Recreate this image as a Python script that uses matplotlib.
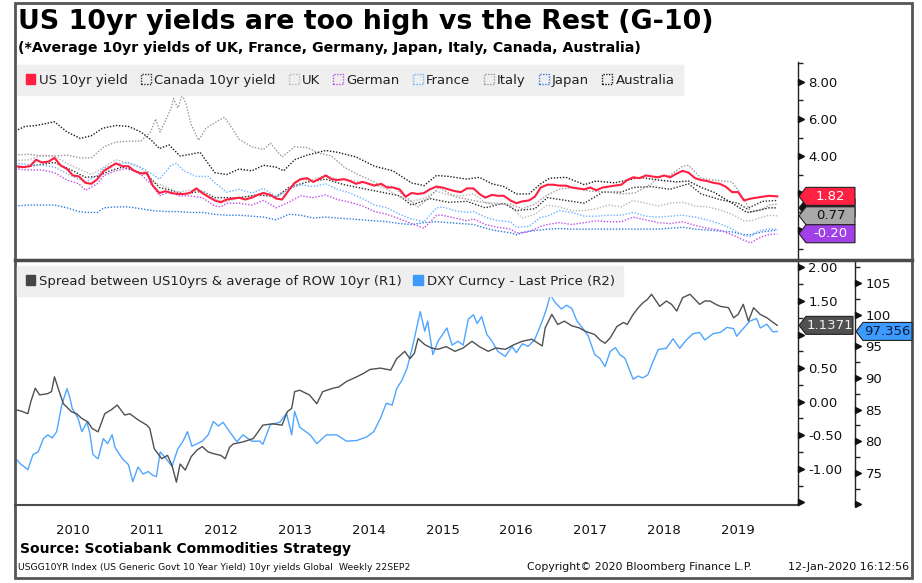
import matplotlib
matplotlib.use('Agg')
import matplotlib.pyplot as plt
from matplotlib.patches import Polygon, Patch, Rectangle
from matplotlib.lines import Line2D
import matplotlib.transforms as mtrans
from matplotlib.ticker import FixedLocator, FuncFormatter, NullFormatter

# ---------------- data (decimal years, values) ----------------
us_t = [2009.72, 2009.83, 2009.92, 2010.0, 2010.08, 2010.17, 2010.25, 2010.33, 2010.42, 2010.5, 2010.58, 2010.67,
        2010.75, 2010.83, 2010.92, 2011.0, 2011.08, 2011.17, 2011.25, 2011.33, 2011.42, 2011.5, 2011.58, 2011.67,
        2011.75, 2011.83, 2011.92, 2012.0, 2012.08, 2012.17, 2012.25, 2012.33, 2012.42, 2012.5, 2012.58, 2012.67,
        2012.75, 2012.83, 2012.92, 2013.0, 2013.08, 2013.17, 2013.25, 2013.33, 2013.42, 2013.5, 2013.58, 2013.67,
        2013.75, 2013.83, 2013.92, 2014.0, 2014.08, 2014.17, 2014.25, 2014.33, 2014.42, 2014.5, 2014.58, 2014.67,
        2014.75, 2014.83, 2014.92, 2015.0, 2015.08, 2015.17, 2015.25, 2015.33, 2015.42, 2015.5, 2015.58, 2015.67,
        2015.75, 2015.83, 2015.92, 2016.0, 2016.08, 2016.17, 2016.25, 2016.33, 2016.42, 2016.5, 2016.58, 2016.67,
        2016.75, 2016.83, 2016.92, 2017.0, 2017.08, 2017.17, 2017.25, 2017.33, 2017.42, 2017.5, 2017.58, 2017.67,
        2017.75, 2017.83, 2017.92, 2018.0, 2018.08, 2018.17, 2018.25, 2018.33, 2018.42, 2018.5, 2018.58, 2018.67,
        2018.75, 2018.83, 2018.92, 2019.0, 2019.08, 2019.17, 2019.25, 2019.33, 2019.42, 2019.5, 2019.58, 2019.67,
        2019.75, 2019.83, 2019.92, 2020.03]
us_v = [3.45, 3.4, 3.45, 3.8, 3.65, 3.7, 3.9, 3.5, 3.3, 2.95, 2.9, 2.55,
        2.5, 2.75, 3.2, 3.4, 3.6, 3.45, 3.45, 3.2, 3.05, 3.1, 2.4, 2.0,
        2.1, 2.0, 1.95, 1.95, 2.0, 2.25, 2.0, 1.8, 1.6, 1.5, 1.65, 1.7,
        1.75, 1.65, 1.75, 1.9, 2.0, 1.9, 1.7, 1.65, 2.15, 2.55, 2.75, 2.8,
        2.6, 2.75, 2.95, 2.75, 2.7, 2.75, 2.65, 2.5, 2.6, 2.5, 2.4, 2.5,
        2.3, 2.3, 2.2, 1.8, 2.0, 1.95, 2.0, 2.2, 2.35, 2.3, 2.2, 2.1,
        2.05, 2.25, 2.25, 1.95, 1.75, 1.9, 1.85, 1.85, 1.6, 1.45, 1.55, 1.6,
        1.8, 2.3, 2.45, 2.45, 2.4, 2.4, 2.3, 2.25, 2.2, 2.3, 2.15, 2.3,
        2.35, 2.4, 2.45, 2.7, 2.85, 2.8, 2.95, 2.9, 2.85, 2.95, 2.85, 3.05,
        3.2, 3.1, 2.8, 2.7, 2.65, 2.55, 2.5, 2.35, 2.05, 2.05, 1.6, 1.7,
        1.75, 1.8, 1.85, 1.82]

canada_t = [2009.72, 2010.0, 2010.25, 2010.5, 2010.67, 2010.83, 2011.0, 2011.17, 2011.33, 2011.5, 2011.67, 2011.83,
            2012.0, 2012.25, 2012.42, 2012.58, 2012.75, 2013.0, 2013.25, 2013.42, 2013.67, 2013.92, 2014.17, 2014.42,
            2014.67, 2014.92, 2015.08, 2015.33, 2015.58, 2015.83, 2016.08, 2016.33, 2016.5, 2016.75, 2016.92, 2017.17,
            2017.42, 2017.67, 2017.92, 2018.08, 2018.33, 2018.58, 2018.83, 2019.0, 2019.25, 2019.5, 2019.62, 2019.83,
            2020.03]
canada_v = [3.35, 3.5, 3.65, 3.2, 2.85, 2.9, 3.2, 3.4, 3.2, 3.0, 2.3, 2.15,
            1.95, 2.1, 1.75, 1.75, 1.75, 1.9, 1.8, 2.3, 2.6, 2.75, 2.45, 2.25,
            2.05, 1.85, 1.35, 1.7, 1.5, 1.55, 1.2, 1.45, 1.05, 1.15, 1.75, 1.6,
            1.45, 2.05, 2.05, 2.3, 2.35, 2.2, 2.5, 1.95, 1.65, 1.45, 1.15, 1.55,
            1.6]

uk_t = [2009.72, 2009.9, 2010.08, 2010.25, 2010.42, 2010.58, 2010.75, 2010.92, 2011.08, 2011.25, 2011.42, 2011.58,
        2011.75, 2011.92, 2012.08, 2012.25, 2012.42, 2012.58, 2012.75, 2012.92, 2013.08, 2013.25, 2013.42, 2013.58,
        2013.75, 2013.92, 2014.08, 2014.25, 2014.42, 2014.58, 2014.75, 2014.92, 2015.08, 2015.25, 2015.42, 2015.58,
        2015.75, 2015.92, 2016.08, 2016.25, 2016.42, 2016.58, 2016.75, 2016.92, 2017.08, 2017.25, 2017.42, 2017.58,
        2017.75, 2017.92, 2018.08, 2018.25, 2018.42, 2018.58, 2018.75, 2018.92, 2019.08, 2019.25, 2019.42, 2019.58,
        2019.67, 2019.83, 2019.92, 2020.03]
uk_v = [3.75, 3.8, 4.05, 4.0, 3.6, 3.3, 3.0, 3.4, 3.8, 3.6, 3.35, 2.6,
        2.35, 2.05, 2.15, 2.1, 1.65, 1.55, 1.75, 1.85, 2.05, 1.75, 2.2, 2.7,
        2.75, 2.95, 2.75, 2.7, 2.6, 2.45, 2.2, 1.8, 1.55, 1.7, 2.1, 1.9,
        1.85, 1.95, 1.5, 1.45, 1.3, 0.65, 0.85, 1.35, 1.25, 1.05, 1.05, 1.15,
        1.35, 1.25, 1.6, 1.45, 1.3, 1.45, 1.5, 1.3, 1.25, 1.1, 0.85, 0.5,
        0.5, 0.7, 0.8, 0.77]

german_t = [2009.72, 2009.9, 2010.08, 2010.25, 2010.42, 2010.58, 2010.67, 2010.83, 2010.92, 2011.08, 2011.25, 2011.42,
            2011.58, 2011.67, 2011.83, 2011.92, 2012.08, 2012.25, 2012.42, 2012.5, 2012.58, 2012.75, 2012.92, 2013.08,
            2013.25, 2013.42, 2013.58, 2013.75, 2013.92, 2014.08, 2014.25, 2014.42, 2014.58, 2014.75, 2014.92, 2015.08,
            2015.25, 2015.42, 2015.5, 2015.67, 2015.83, 2015.92, 2016.08, 2016.25, 2016.42, 2016.5, 2016.67, 2016.83,
            2016.92, 2017.08, 2017.25, 2017.42, 2017.58, 2017.75, 2017.92, 2018.08, 2018.25, 2018.42, 2018.58, 2018.75,
            2018.92, 2019.08, 2019.25, 2019.42, 2019.58, 2019.67, 2019.75, 2019.83, 2019.92, 2020.03]
german_v = [3.3, 3.25, 3.25, 3.1, 2.7, 2.5, 2.15, 2.5, 2.95, 3.2, 3.35, 3.0,
            2.4, 1.85, 2.1, 1.85, 1.85, 1.75, 1.3, 1.25, 1.45, 1.45, 1.35, 1.6,
            1.2, 1.5, 1.85, 1.75, 1.9, 1.65, 1.5, 1.3, 1.0, 0.85, 0.6, 0.35,
            0.1, 0.8, 0.8, 0.65, 0.5, 0.6, 0.3, 0.15, 0.05, -0.15, -0.1, 0.2,
            0.3, 0.4, 0.3, 0.4, 0.5, 0.45, 0.45, 0.7, 0.55, 0.4, 0.35, 0.45,
            0.25, 0.1, 0.0, -0.25, -0.55, -0.7, -0.5, -0.35, -0.25, -0.2]

france_t = [2009.72, 2009.9, 2010.08, 2010.25, 2010.42, 2010.58, 2010.67, 2010.83, 2010.92, 2011.08, 2011.25, 2011.42,
            2011.58, 2011.67, 2011.83, 2011.9, 2012.0, 2012.17, 2012.33, 2012.42, 2012.58, 2012.75, 2012.92, 2013.08,
            2013.25, 2013.42, 2013.58, 2013.75, 2013.92, 2014.08, 2014.25, 2014.42, 2014.58, 2014.75, 2014.92, 2015.08,
            2015.25, 2015.42, 2015.5, 2015.67, 2015.83, 2015.92, 2016.08, 2016.25, 2016.42, 2016.5, 2016.67, 2016.83,
            2016.92, 2017.08, 2017.25, 2017.42, 2017.58, 2017.75, 2017.92, 2018.08, 2018.25, 2018.42, 2018.58, 2018.75,
            2018.92, 2019.08, 2019.25, 2019.42, 2019.58, 2019.67, 2019.75, 2019.83, 2019.92, 2020.03]
france_v = [3.6, 3.55, 3.5, 3.4, 3.05, 2.75, 2.6, 2.95, 3.35, 3.55, 3.65, 3.4,
            3.0, 2.75, 3.5, 3.6, 3.2, 2.9, 2.9, 2.55, 2.05, 2.2, 2.0, 2.25,
            1.8, 2.2, 2.45, 2.35, 2.5, 2.2, 2.0, 1.7, 1.35, 1.2, 0.85, 0.6,
            0.45, 1.2, 1.25, 1.05, 0.95, 1.0, 0.7, 0.5, 0.45, 0.15, 0.2, 0.7,
            0.75, 1.05, 0.95, 0.75, 0.75, 0.8, 0.8, 0.95, 0.75, 0.7, 0.75, 0.8,
            0.7, 0.55, 0.35, 0.05, -0.3, -0.35, -0.1, 0.0, 0.05, 0.05]

italy_t = [2009.72, 2009.9, 2010.08, 2010.25, 2010.42, 2010.6, 2010.75, 2010.92, 2011.08, 2011.25, 2011.42, 2011.55,
           2011.62, 2011.68, 2011.75, 2011.83, 2011.86, 2011.92, 2011.98, 2012.03, 2012.1, 2012.2, 2012.3, 2012.42,
           2012.55, 2012.62, 2012.75, 2012.92, 2013.08, 2013.17, 2013.33, 2013.5, 2013.67, 2013.83, 2014.0, 2014.17,
           2014.33, 2014.5, 2014.67, 2014.83, 2015.0, 2015.17, 2015.33, 2015.45, 2015.67, 2015.92, 2016.17, 2016.42,
           2016.58, 2016.75, 2016.92, 2017.08, 2017.25, 2017.5, 2017.75, 2017.92, 2018.1, 2018.33, 2018.42, 2018.58,
           2018.75, 2018.83, 2019.0, 2019.17, 2019.42, 2019.58, 2019.67, 2019.83, 2019.92, 2020.03]
italy_v = [4.05, 4.1, 4.0, 4.0, 4.05, 3.9, 3.9, 4.5, 4.75, 4.8, 4.8, 5.3,
           6.0, 5.3, 5.9, 6.6, 7.1, 6.6, 7.3, 6.8, 5.7, 4.85, 5.5, 5.8,
           6.1, 5.7, 4.9, 4.5, 4.35, 4.7, 3.95, 4.5, 4.45, 4.15, 4.0, 3.4,
           3.05, 2.75, 2.4, 2.35, 1.8, 1.25, 1.8, 2.3, 1.8, 1.6, 1.4, 1.4,
           1.15, 1.4, 1.9, 2.2, 2.3, 2.1, 2.05, 1.95, 2.0, 2.5, 2.9, 2.95,
           3.45, 3.5, 2.8, 2.7, 2.6, 1.7, 0.95, 1.1, 1.35, 1.4]

japan_t = [2009.72, 2009.9, 2010.08, 2010.25, 2010.42, 2010.58, 2010.67, 2010.83, 2010.92, 2011.08, 2011.25, 2011.42,
           2011.58, 2011.75, 2011.92, 2012.08, 2012.25, 2012.42, 2012.58, 2012.75, 2012.92, 2013.08, 2013.25, 2013.42,
           2013.58, 2013.75, 2013.92, 2014.08, 2014.25, 2014.42, 2014.58, 2014.75, 2014.92, 2015.08, 2015.25, 2015.42,
           2015.58, 2015.75, 2015.92, 2016.08, 2016.25, 2016.42, 2016.5, 2016.67, 2016.83, 2016.92, 2017.08, 2017.25,
           2017.42, 2017.58, 2017.75, 2017.92, 2018.08, 2018.25, 2018.42, 2018.58, 2018.75, 2018.92, 2019.08, 2019.25,
           2019.42, 2019.58, 2019.67, 2019.83, 2019.92, 2020.03]
japan_v = [1.3, 1.35, 1.35, 1.35, 1.2, 1.0, 0.95, 0.95, 1.2, 1.25, 1.25, 1.15,
           1.05, 1.0, 1.0, 0.95, 0.95, 0.85, 0.8, 0.8, 0.75, 0.7, 0.55, 0.85,
           0.8, 0.65, 0.7, 0.65, 0.6, 0.55, 0.5, 0.45, 0.35, 0.3, 0.4, 0.45,
           0.4, 0.35, 0.3, 0.1, -0.05, -0.15, -0.25, -0.05, 0.0, 0.05, 0.08, 0.05,
           0.05, 0.05, 0.05, 0.05, 0.05, 0.05, 0.05, 0.1, 0.15, 0.05, 0.0, -0.05,
           -0.1, -0.25, -0.25, -0.1, -0.05, 0.0]

aus_t = [2009.72, 2009.85, 2010.0, 2010.25, 2010.42, 2010.6, 2010.75, 2010.9, 2011.08, 2011.25, 2011.42, 2011.55,
         2011.67, 2011.8, 2011.95, 2012.1, 2012.22, 2012.42, 2012.58, 2012.75, 2012.92, 2013.08, 2013.25, 2013.35,
         2013.5, 2013.67, 2013.92, 2014.08, 2014.33, 2014.58, 2014.83, 2015.08, 2015.25, 2015.42, 2015.58, 2015.83,
         2016.0, 2016.17, 2016.33, 2016.5, 2016.67, 2016.83, 2016.95, 2017.17, 2017.42, 2017.58, 2017.83, 2018.0,
         2018.17, 2018.42, 2018.67, 2018.83, 2019.0, 2019.17, 2019.42, 2019.62, 2019.75, 2019.92, 2020.03]
aus_v = [5.35, 5.6, 5.65, 5.85, 5.3, 4.95, 5.1, 5.5, 5.65, 5.6, 5.3, 4.9,
         4.4, 4.6, 4.0, 4.1, 4.2, 3.1, 3.0, 3.3, 3.2, 3.5, 3.4, 3.2,
         3.8, 4.05, 4.3, 4.2, 3.95, 3.45, 3.2, 2.55, 2.4, 2.95, 2.9, 2.75,
         2.85, 2.5, 2.35, 1.95, 1.95, 2.5, 2.8, 2.85, 2.45, 2.65, 2.55, 2.7,
         2.85, 2.7, 2.6, 2.65, 2.3, 2.05, 1.45, 0.95, 1.05, 1.2, 1.2]

spread_t = [2009.72, 2009.8, 2009.89, 2009.93, 2009.99, 2010.05, 2010.16, 2010.21, 2010.25, 2010.3, 2010.37, 2010.48,
            2010.55, 2010.62, 2010.7, 2010.76, 2010.84, 2010.93, 2011.02, 2011.1, 2011.2, 2011.27, 2011.38, 2011.5,
            2011.54, 2011.6, 2011.7, 2011.78, 2011.84, 2011.9, 2011.95, 2012.02, 2012.1, 2012.18, 2012.25, 2012.33,
            2012.42, 2012.5, 2012.56, 2012.62, 2012.67, 2012.8, 2012.94, 2013.07, 2013.2, 2013.33, 2013.4, 2013.46,
            2013.5, 2013.57, 2013.7, 2013.8, 2013.88, 2014.02, 2014.1, 2014.2, 2014.34, 2014.43, 2014.52, 2014.66,
            2014.8, 2014.88, 2014.99, 2015.06, 2015.12, 2015.17, 2015.26, 2015.35, 2015.44, 2015.55, 2015.67, 2015.78,
            2015.9, 2016.0, 2016.12, 2016.22, 2016.35, 2016.47, 2016.58, 2016.71, 2016.85, 2016.89, 2016.98, 2017.06,
            2017.15, 2017.25, 2017.35, 2017.43, 2017.56, 2017.63, 2017.7, 2017.77, 2017.86, 2017.95, 2018.0, 2018.08,
            2018.15, 2018.21, 2018.27, 2018.33, 2018.44, 2018.53, 2018.6, 2018.67, 2018.75, 2018.85, 2018.92, 2018.98,
            2019.05, 2019.12, 2019.2, 2019.26, 2019.37, 2019.44, 2019.5, 2019.57, 2019.64, 2019.71, 2019.8, 2019.89,
            2019.95, 2020.03]
spread_v = [-0.12, -0.14, -0.18, 0.0, 0.2, 0.1, 0.12, 0.15, 0.37, 0.2, -0.03, -0.15,
            -0.18, -0.25, -0.3, -0.4, -0.45, -0.18, -0.12, -0.05, -0.2, -0.18, -0.27, -0.35,
            -0.4, -0.7, -0.85, -0.8, -0.95, -1.2, -0.93, -1.02, -0.82, -0.72, -0.67, -0.75,
            -0.78, -0.8, -0.85, -0.68, -0.63, -0.6, -0.55, -0.35, -0.33, -0.35, -0.15, -0.1,
            0.15, 0.17, 0.1, -0.03, 0.15, 0.2, 0.22, 0.3, 0.37, 0.42, 0.48, 0.5,
            0.47, 0.64, 0.75, 0.64, 0.72, 0.94, 0.85, 0.8, 0.78, 0.82, 0.75, 0.8,
            0.9, 0.82, 0.75, 0.8, 0.78, 0.85, 0.9, 0.93, 0.83, 1.1, 1.3, 1.15,
            1.2, 1.13, 1.1, 1.05, 1.0, 0.92, 0.87, 0.95, 1.12, 1.18, 1.15, 1.3,
            1.4, 1.47, 1.52, 1.6, 1.42, 1.5, 1.45, 1.35, 1.55, 1.6, 1.52, 1.45,
            1.5, 1.5, 1.45, 1.42, 1.4, 1.25, 1.3, 1.45, 1.2, 1.4, 1.3, 1.25,
            1.2, 1.1371]

dxy_t = [2009.72, 2009.8, 2009.89, 2009.96, 2010.03, 2010.1, 2010.16, 2010.22, 2010.28, 2010.35, 2010.42, 2010.46,
         2010.49, 2010.57, 2010.62, 2010.69, 2010.73, 2010.77, 2010.84, 2010.91, 2010.97, 2011.03, 2011.07, 2011.17,
         2011.25, 2011.31, 2011.38, 2011.45, 2011.52, 2011.58, 2011.63, 2011.68, 2011.75, 2011.84, 2011.92, 2011.99,
         2012.05, 2012.11, 2012.18, 2012.25, 2012.33, 2012.4, 2012.47, 2012.53, 2012.62, 2012.72, 2012.8, 2012.92,
         2013.03, 2013.07, 2013.17, 2013.3, 2013.39, 2013.46, 2013.5, 2013.57, 2013.71, 2013.8, 2013.93, 2014.07,
         2014.2, 2014.34, 2014.48, 2014.57, 2014.66, 2014.74, 2014.82, 2014.88, 2014.95, 2015.02, 2015.09, 2015.2,
         2015.26, 2015.3, 2015.37, 2015.44, 2015.56, 2015.63, 2015.71, 2015.78, 2015.85, 2015.92, 2015.97, 2016.03,
         2016.1, 2016.17, 2016.25, 2016.35, 2016.44, 2016.5, 2016.58, 2016.66, 2016.75, 2016.85, 2016.91, 2016.96,
         2017.02, 2017.11, 2017.18, 2017.25, 2017.32, 2017.39, 2017.47, 2017.56, 2017.63, 2017.7, 2017.77, 2017.84,
         2017.9, 2017.97, 2018.04, 2018.08, 2018.15, 2018.21, 2018.28, 2018.35, 2018.42, 2018.53, 2018.62, 2018.71,
         2018.8, 2018.89, 2018.98, 2019.05, 2019.16, 2019.26, 2019.35, 2019.44, 2019.48, 2019.57, 2019.66, 2019.75,
         2019.8, 2019.89, 2019.97, 2020.03]
dxy_v = [77.3, 76.3, 75.5, 77.9, 78.3, 80.4, 81.0, 80.5, 81.5, 85.8, 88.3, 86.8,
         85.2, 83.6, 81.5, 83.0, 81.2, 77.9, 77.2, 80.4, 79.6, 81.0, 79.0, 77.2,
         76.3, 73.6, 75.9, 74.8, 75.2, 74.6, 74.4, 78.3, 77.4, 76.0, 78.8, 80.0,
         81.5, 79.2, 79.6, 80.0, 81.0, 83.1, 82.4, 83.0, 81.5, 79.9, 81.0, 80.0,
         80.0, 79.5, 82.6, 83.0, 84.4, 81.0, 84.7, 82.2, 81.0, 79.6, 81.0, 81.0,
         80.0, 80.1, 80.7, 81.5, 83.6, 86.0, 85.7, 88.3, 89.6, 91.5, 94.7, 100.5,
         97.4, 99.0, 93.7, 95.8, 97.9, 95.2, 95.8, 95.2, 99.3, 100.0, 98.6, 99.7,
         96.9, 95.8, 94.2, 93.4, 95.0, 94.0, 95.4, 95.0, 96.1, 99.0, 101.0, 103.2,
         102.0, 100.9, 101.5, 101.0, 99.0, 98.0, 96.7, 93.7, 93.1, 91.8, 94.2, 94.8,
         93.7, 93.1, 91.0, 89.8, 90.3, 90.0, 90.5, 92.6, 94.5, 94.7, 96.2, 94.7,
         96.0, 97.0, 97.2, 96.0, 97.0, 97.2, 98.0, 97.8, 96.6, 97.8, 99.0, 99.4,
         97.9, 98.5, 97.3, 97.356]

years = list(range(2010, 2020))
top_labels = ["US 10yr yield", "Canada 10yr yield", "UK", "German", "France", "Italy", "Japan", "Australia"]
bottom_labels = ["Spread between US10yrs & average of ROW 10yr (R1)", "DXY Curncy - Last Price (R2)"]

# ---------------- figure ----------------
W, H = 922, 583
fig = plt.figure(figsize=(W / 100, H / 100), dpi=100)
fig.patch.set_facecolor('white')


def fx(px):
    return px / W


def fy(py):
    return 1 - py / H


XL = (2009.716, 2020.311)
ax1 = fig.add_axes([fx(15), fy(258), fx(798) - fx(15), fy(62) - fy(258)])
ax2 = fig.add_axes([fx(15), fy(505), fx(798) - fx(15), fy(261) - fy(505)])
ax3 = ax2.twinx()

dot = (0, (1, 1.2))
series = [
    (canada_t, canada_v, '#303030'),
    (uk_t, uk_v, '#b8b8b8'),
    (italy_t, italy_v, '#9a9a9a'),
    (aus_t, aus_v, '#1a1a1a'),
    (japan_t, japan_v, '#2f7de0'),
    (france_t, france_v, '#6cb4ff'),
    (german_t, german_v, '#c04ee8'),
]
for t, v, c in series:
    ax1.plot(t, v, color=c, lw=1.0, ls=dot)
ax1.plot(us_t, us_v, color='#ff1f40', lw=1.5, zorder=5)

ax2.plot(spread_t, spread_v, color='#505050', lw=1.0, zorder=4)
ax3.plot(dxy_t, dxy_v, color='#4ea6ff', lw=1.0, zorder=3)
ax2.set_zorder(ax3.get_zorder() + 1)
ax2.patch.set_visible(False)

ax1.set_xlim(*XL)
ax2.set_xlim(*XL)
ax1.set_ylim(-1.51, 9.08)
ax2.set_ylim(-1.54, 2.096)
ax3.set_ylim(69.9, 108.5)

for a in (ax1, ax2, ax3):
    a.set_facecolor('none')
    a.spines['top'].set_visible(False)

for a in (ax1, ax2):
    a.spines['left'].set_visible(False)
    a.spines['right'].set_color('#222222')
    a.spines['right'].set_linewidth(1)
ax1.spines['bottom'].set_visible(False)
ax2.spines['bottom'].set_color('#4a4a4a')
ax2.spines['bottom'].set_linewidth(1.5)
ax3.spines['left'].set_visible(False)
ax3.spines['bottom'].set_visible(False)
ax3.spines['right'].set_position(('outward', 57 * 0.72))
ax3.spines['right'].set_color('#222222')
ax3.spines['right'].set_linewidth(1)

ax1.set_xticks([])


def style_right(a, majors, minors, fmtfunc):
    a.yaxis.set_major_locator(FixedLocator(majors))
    a.yaxis.set_minor_locator(FixedLocator(minors))
    a.yaxis.set_major_formatter(FuncFormatter(fmtfunc))
    a.yaxis.set_minor_formatter(NullFormatter())
    a.tick_params(axis='y', which='major', length=0, pad=7.5, labelsize=9.5,
                  labelcolor='#111111', left=False, right=True, labelleft=False, labelright=True)
    a.tick_params(axis='y', which='minor', length=3.5, width=1, color='#222222',
                  direction='out', left=False, right=True)


top_major = [0, 2, 4, 6, 8]
r1_major = [-1.5, -1.0, -0.5, 0.0, 0.5, 1.0, 1.5, 2.0]
r2_major = [70, 75, 80, 85, 90, 95, 100, 105]
# labels that sit under the value tags in the reference are left blank
style_right(ax1, top_major, [-1, 1, 3, 5, 7, 9], lambda v, p: '' if v < 3 else '%.2f' % v)
style_right(ax2, r1_major, [-1.25, -0.75, -0.25, 0.25, 0.75, 1.25, 1.75],
            lambda v, p: '' if (v < -1.2 or abs(v - 1.0) < 1e-9) else '%.2f' % v)
style_right(ax3, r2_major, [72.5, 77.5, 82.5, 87.5, 92.5, 97.5, 102.5, 107.5],
            lambda v, p: '' if v < 72 else '%d' % v)


# arrow-shaped major ticks
def arrows(a, majors, offset_px):
    tr = mtrans.blended_transform_factory(a.transAxes, a.transData)
    tr = mtrans.offset_copy(tr, fig=fig, x=offset_px + 3, y=0, units='dots')
    a.plot([1.0] * len(majors), majors, ls='none', marker='>', ms=4.5, color='#111111',
           transform=tr, clip_on=False, zorder=10)


arrows(ax1, top_major, 0)
arrows(ax2, r1_major, 0)
arrows(ax3, r2_major, 57)

# x axis: year separators and labels
ax2.set_xticks(list(range(2010, 2021)))
ax2.set_xticklabels([])
ax2.tick_params(axis='x', which='major', length=32, width=0.8, color='#777777', direction='out')
ax2.set_xticks([y + 0.5 for y in years], minor=True)
ax2.set_xticklabels([str(y) for y in years], minor=True)
ax2.tick_params(axis='x', which='minor', length=0, pad=14, labelsize=9.5, labelcolor='#111111')
ax3.set_xticks([])

# ---------------- legends ----------------
top_colors = ['#ff1f40', '#303030', '#b8b8b8', '#c04ee8', '#6cb4ff', '#9a9a9a', '#2f7de0', '#1a1a1a']
top_handles = [Patch(facecolor=top_colors[0], edgecolor=top_colors[0])]
for c in top_colors[1:]:
    top_handles.append(Patch(facecolor='none', edgecolor=c, linestyle=(0, (1, 1)), linewidth=1))
leg1 = ax1.legend(top_handles, top_labels, loc='upper left', bbox_to_anchor=(fx(17), fy(65)),
                  bbox_transform=fig.transFigure, ncol=8, frameon=True, fancybox=False,
                  facecolor='#efefef', edgecolor='#efefef', framealpha=1, fontsize=9.5,
                  handlelength=0.75, handleheight=0.75, handletextpad=0.25, columnspacing=1.0,
                  borderpad=0.65, borderaxespad=0)
for tx in leg1.get_texts():
    tx.set_color('#222222')

bottom_handles = [Patch(facecolor='#454545', edgecolor='#454545'),
                  Patch(facecolor='#3d9bff', edgecolor='#3d9bff')]
leg2 = ax2.legend(bottom_handles, bottom_labels, loc='upper left', bbox_to_anchor=(fx(17), fy(266)),
                  bbox_transform=fig.transFigure, ncol=2, frameon=True, fancybox=False,
                  facecolor='#efefef', edgecolor='#efefef', framealpha=1, fontsize=9.5,
                  handlelength=0.75, handleheight=0.75, handletextpad=0.25, columnspacing=0.9,
                  borderpad=0.65, borderaxespad=0)
for tx in leg2.get_texts():
    tx.set_color('#222222')


# ---------------- value tags ----------------
def tag(a, value, text, x0_px, w_px, face, tcolor, z):
    yc = a.transData.transform((XL[0], value))[1]
    h = 18
    verts = [(x0_px, yc), (x0_px + 7, yc + h / 2), (x0_px + w_px, yc + h / 2),
             (x0_px + w_px, yc - h / 2), (x0_px + 7, yc - h / 2)]
    verts = [(vx / W, vy / H) for vx, vy in verts]
    p = Polygon(verts, closed=True, facecolor=face, edgecolor='#222222', lw=0.8,
                transform=fig.transFigure, zorder=z)
    fig.patches.append(p)
    if text:
        fig.text((x0_px + 7 + (w_px - 7) / 2) / W, yc / H, text, ha='center', va='center',
                 fontsize=9.5, color=tcolor, zorder=z + 0.1)


tag(ax1, aus_v[-1], '', 799, 56, '#111111', 'white', 20)
tag(ax1, us_v[-1], '%.2f' % us_v[-1], 799, 56, '#ff2142', 'white', 21)
tag(ax1, uk_v[-1], '%.2f' % uk_v[-1], 799, 56, '#a8a8a8', '#111111', 22)
tag(ax1, german_v[-1], '%.2f' % german_v[-1], 799, 56, '#a040e6', 'white', 23)
tag(ax2, spread_v[-1], '%.4f' % spread_v[-1], 799, 54, '#505050', '#eeeeee', 24)
tag(ax3, dxy_v[-1], '%.3f' % dxy_v[-1], 856, 56, '#3d9bff', '#0b1a3a', 25)

# ---------------- frame, separators ----------------
fig.add_artist(Line2D([fx(15), fx(912)], [fy(260), fy(260)], color='#4a4a4a', lw=2.5))
fig.add_artist(Rectangle((fx(15), fy(578)), fx(912) - fx(15), fy(3) - fy(578), fill=False,
                         edgecolor='#555555', lw=2, transform=fig.transFigure))

# ---------------- texts ----------------
fig.text(fx(18), fy(22), 'US 10yr yields are too high vs the Rest (G-10)', fontsize=19.4,
         fontweight='bold', va='center', ha='left', color='black')
fig.text(fx(18), fy(48), '(*Average 10yr yields of UK, France, Germany, Japan, Italy, Canada, Australia)',
         fontsize=10.2, fontweight='bold', va='center', ha='left', color='black')
fig.text(fx(20), fy(549), 'Source: Scotiabank Commodities Strategy', fontsize=10, fontweight='bold',
         va='center', ha='left', color='black')
fig.text(fx(18), fy(567), 'USGG10YR Index (US Generic Govt 10 Year Yield) 10yr yields Global  Weekly 22SEP2',
         fontsize=6.7, va='center', ha='left', color='#111111')
fig.text(fx(527), fy(567), 'Copyright\u00a9 2020 Bloomberg Finance L.P.', fontsize=7.8, va='center', ha='left',
         color='#111111')
fig.text(fx(909), fy(567), '12-Jan-2020 16:12:56', fontsize=8.0, va='center', ha='right', color='#111111')

fig.savefig('out.png', dpi=100)
